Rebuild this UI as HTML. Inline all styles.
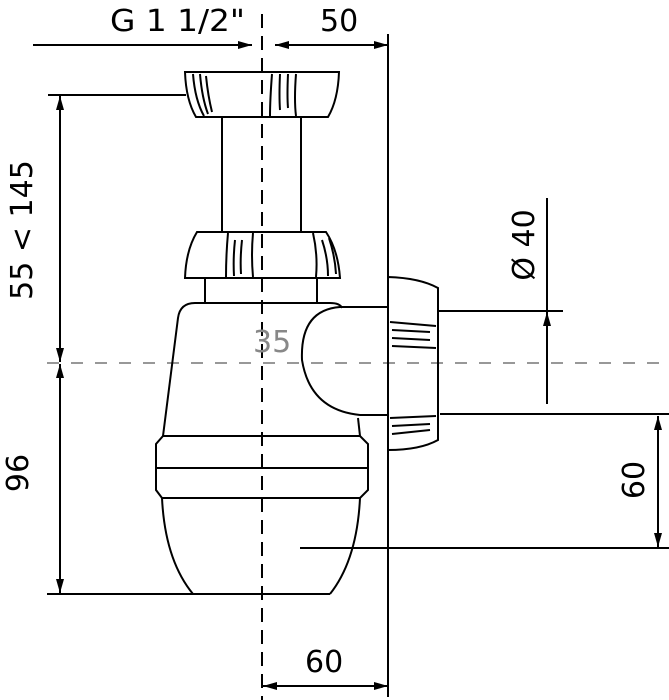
<!DOCTYPE html>
<html><head><style>body{margin:0;background:#fff}svg{display:block}</style></head><body>
<svg width="669" height="700" viewBox="0 0 669 700" xmlns="http://www.w3.org/2000/svg" font-family="'DejaVu Sans','Liberation Sans',sans-serif">
<defs>
<marker id="a" viewBox="0 0 14 8" refX="14" refY="4" markerWidth="14" markerHeight="8" orient="auto-start-reverse" markerUnits="userSpaceOnUse"><path d="M0,0 L14,4 L0,8 z" fill="#000"/></marker>
</defs>
<g stroke="#000" stroke-width="2" fill="none">
<line x1="388" y1="34" x2="388" y2="697"/>
<line x1="262" y1="14" x2="262" y2="700" stroke-dasharray="14,8"/>
<line x1="47" y1="363" x2="669" y2="363" stroke="#777" stroke-dasharray="12,12" stroke-width="1.6"/>
<line x1="33" y1="45" x2="252" y2="45" marker-end="url(#a)"/>
<line x1="275" y1="45" x2="388" y2="45" marker-start="url(#a)" marker-end="url(#a)"/>
<line x1="48" y1="95" x2="186" y2="95"/>
<line x1="60" y1="96" x2="60" y2="362" marker-start="url(#a)" marker-end="url(#a)"/>
<line x1="60" y1="364" x2="60" y2="593" marker-start="url(#a)" marker-end="url(#a)"/>
<line x1="47" y1="594" x2="330" y2="594"/>
<line x1="263" y1="686" x2="388" y2="686" marker-start="url(#a)" marker-end="url(#a)"/>
<line x1="438" y1="311" x2="563" y2="311"/>
<line x1="547" y1="198" x2="547" y2="404"/>
<line x1="547" y1="330" x2="547" y2="312" marker-end="url(#a)"/>
<line x1="440" y1="414" x2="669" y2="414"/>
<line x1="300" y1="548" x2="669" y2="548"/>
<line x1="658" y1="416" x2="658" y2="547" marker-start="url(#a)" marker-end="url(#a)"/>
<path d="M185,72 L339,72 Q338,100 328,117 L196,117 Q186,100 185,72 Z"/>
<path d="M193,74 Q195,100 204,116 M200,74 Q202,98 208,114 M206,76 Q208,96 212,112 M272,74 Q270,100 270,116 M280,74 Q279,96 280,110 M288,74 Q287,96 288,108 M296,74 Q294,100 296,116"/>
<line x1="222" y1="117" x2="222" y2="232"/><line x1="301" y1="117" x2="301" y2="232"/>
<path d="M197,232 L326,232 Q338,250 340,278 L185,278 Q186,250 197,232 Z"/>
<path d="M228,233 Q226,255 226,277 M235,240 Q233,258 234,276 M242,240 Q240,258 241,274 M253,233 Q251,255 253,277 M313,233 Q318,255 316,277 M322,240 Q328,258 328,276 M329,238 Q335,256 336,274"/>
<line x1="205" y1="278" x2="205" y2="303"/><line x1="317" y1="278" x2="317" y2="303"/>
<path d="M163,436 L178,318 Q180,303 195,303 L330,303 Q340,303 342,308"/>
<path d="M358,418 L360,436"/>
<path d="M163,436 L360,436 L368,444 L368,490 L360,498 L162,498 L156,490 L156,444 Z"/>
<line x1="156" y1="468" x2="368" y2="468"/>
<path d="M162,498 Q165,560 193,594 M360,498 Q357,560 330,594"/>
<path d="M388,307 L340,307 Q300,310 302,360 Q310,410 360,415 L388,415"/>
<path d="M388,277 Q420,278 438,288 L438,440 Q420,450 388,450 Z"/>
<path d="M390,322 L436,326 M392,330 L430,332 M392,338 L430,340 M392,346 L436,348 M390,418 L436,416 M392,426 L430,424 M392,434 L430,430"/>
</g>
<g font-size="30" fill="#000">
<text x="110" y="31" textLength="135" lengthAdjust="spacingAndGlyphs">G 1 1/2"</text>
<text x="320" y="31">50</text>
<text x="305" y="672">60</text>
<text x="253" y="352" fill="#888">35</text>
<text transform="translate(32,230) rotate(-90)" text-anchor="middle">55 &lt; 145</text>
<text transform="translate(28,473) rotate(-90)" text-anchor="middle">96</text>
<text transform="translate(534,245) rotate(-90)" text-anchor="middle">Ø 40</text>
<text transform="translate(644,480) rotate(-90)" text-anchor="middle">60</text>
</g>
</svg>
</body></html>
